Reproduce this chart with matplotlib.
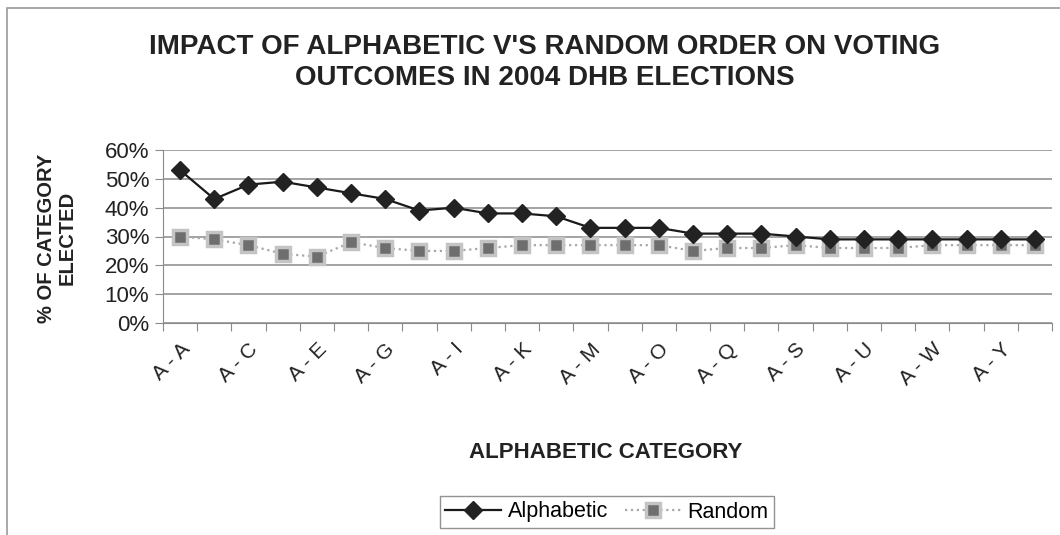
import numpy as np
import matplotlib
matplotlib.use("Agg")
import matplotlib.pyplot as plt
from matplotlib.patches import Rectangle

plt.rcParams['font.family'] = ['Liberation Sans', 'DejaVu Sans']

# category names A - A .. A - Z
categories = ["A - " + chr(c) for c in range(ord("A"), ord("Z") + 1)]

alphabetic = [53, 43, 48, 49, 47, 45, 43, 39, 40, 38, 38, 37, 33,
              33, 33, 31, 31, 31, 30, 29, 29, 29, 29, 29, 29, 29]
random_order = [30, 29, 27, 24, 23, 28, 26, 25, 25, 26, 27, 27, 27,
                27, 27, 25, 26, 26, 27, 26, 26, 26, 27, 27, 27, 27]

y_ticks = [0, 10, 20, 30, 40, 50, 60]

W, H = 1060, 535
fig = plt.figure(figsize=(W / 100, H / 100), dpi=100)

# chart area border (scanned page, only top and left visible)
fig.patches.append(Rectangle((7 / W, -0.1), 1.2, 1 - 8 / H + 0.1, transform=fig.transFigure,
                             fill=False, edgecolor='#9a9a9a', linewidth=1.2))

ax = fig.add_axes([163 / W, 1 - 323 / H, (1052 - 163) / W, (323 - 150) / H])

x = np.arange(len(categories))
ax.plot(x, random_order, color='#a8a8a8', linestyle=':', linewidth=1.6,
        marker='s', markersize=10, markerfacecolor='#6e6e6e',
        markeredgecolor='#c4c4c4', markeredgewidth=2.5, label='Random', zorder=3)
ax.plot(x, alphabetic, color='#1a1a1a', linewidth=1.6,
        marker='D', markersize=9, markerfacecolor='#222222',
        markeredgecolor='#222222', label='Alphabetic', zorder=4)

ax.set_xlim(-0.5, len(categories) - 0.5)
ax.set_ylim(0, 60)

# y axis
ax.set_yticks(y_ticks)
ax.set_yticklabels([f"{v}%" for v in y_ticks], fontsize=16, color='#222222')
ax.yaxis.grid(True, color='#8a8a8a', linewidth=1.1)
ax.set_axisbelow(True)

# x axis: ticks between categories, labels every other category
ax.set_xticks(np.arange(-0.5, len(categories), 1.0))
ax.set_xticklabels([])
ax.set_xticks(x[::2], minor=True)
ax.set_xticklabels(categories[::2], minor=True, rotation=45, ha='right',
                   rotation_mode='anchor', fontsize=15, color='#222222')
ax.tick_params(axis='x', which='major', length=6, color='#8a8a8a', direction='out')
ax.tick_params(axis='x', which='minor', length=0, pad=12)
ax.tick_params(axis='y', length=6, color='#8a8a8a', pad=4)

for s in ['top', 'right']:
    ax.spines[s].set_visible(False)
ax.spines['left'].set_color('#8a8a8a')
ax.spines['bottom'].set_color('#8a8a8a')

fig.text(545 / W, 1 - 47 / H, "IMPACT OF ALPHABETIC V'S RANDOM ORDER ON VOTING",
         ha='center', va='center', fontsize=20, fontweight='bold', color='#222222')
fig.text(545 / W, 1 - 78 / H, "OUTCOMES IN 2004 DHB ELECTIONS",
         ha='center', va='center', fontsize=20, fontweight='bold', color='#222222')

fig.text(57 / W, 1 - 238 / H, "% OF CATEGORY\nELECTED", rotation=90,
         ha='center', va='center', fontsize=14.5, fontweight='bold',
         color='#222222', linespacing=1.1)
fig.text(606 / W, 1 - 453 / H, "ALPHABETIC CATEGORY", ha='center', va='center',
         fontsize=16, fontweight='bold', color='#222222')

handles, labels = ax.get_legend_handles_labels()
leg = fig.legend(handles[::-1], labels[::-1], loc='center',
                 bbox_to_anchor=(607 / W, 1 - 512 / H), ncol=2, frameon=True,
                 fancybox=False, edgecolor='#777777', fontsize=15.5,
                 handlelength=2.6, columnspacing=0.8, handletextpad=0.3,
                 borderpad=0.25)
leg.get_frame().set_linewidth(1.0)

fig.savefig("out.png", dpi=100)
